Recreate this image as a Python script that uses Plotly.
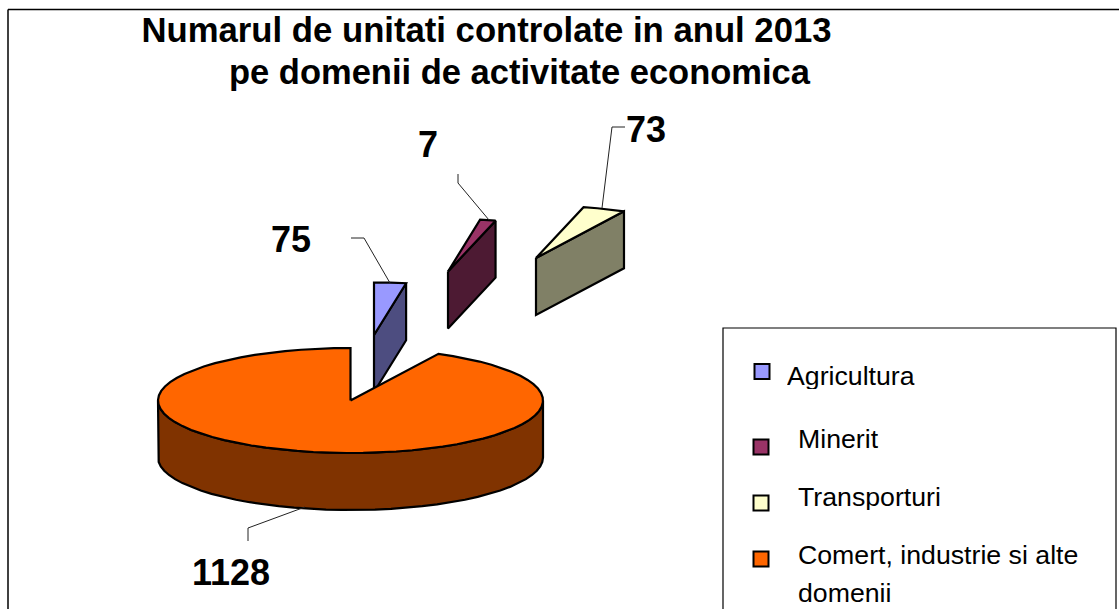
import numpy as np
import plotly.graph_objects as go

# Data
categories = ["Agricultura", "Minerit", "Transporturi", "Comert, industrie si alte domenii"]
legend_lines = ["Agricultura", "Minerit", "Transporturi", "Comert, industrie si alte", "domenii"]
values = [75, 7, 73, 1128]
# sweep of each slice as it is drawn in the picture (degrees, clockwise from 12 o'clock)
drawn_sweep_deg = [9.6, 4.7, 12.9, 332.8]
top_colors = ["#9999FF", "#993366", "#FFFFCC", "#FF6600"]
side_colors = ["#4D4D80", "#4D1A33", "#808066", "#803300"]
title_lines = ["Numarul de unitati controlate in anul 2013", "pe domenii de activitate economica"]

# Layout constants (canvas is laid out in pixels)
W, H = 1119, 609
RX, RY, DEPTH = 192.5, 52.5, 57
vertices = [(374, 335), (448, 271.5), (536, 258), (350.5, 400.5)]
label_pos = [(291, 239), (428, 144), (646, 129), (231, 572)]
leaders = [
    ([351, 364, 390], [238, 238, 283]),
    ([458, 458, 489], [174, 183, 220]),
    ([625, 612, 602], [127, 127, 208]),
    ([248, 248, 305], [541, 528, 507]),
]
legend_marker_xy = [(762, 371.5), (761, 447), (761, 503), (761, 559)]
legend_text_xy = [(786, 376), (796.5, 439), (796.5, 497), (796.5, 555), (796.5, 593)]
LINE = dict(color="black", width=2.2)
FONT = "Liberation Sans, Arial, sans-serif"


def arc(cx, cy, a0, a1, n=None):
    n = n or max(2, int(abs(a1 - a0) / 5) + 2)
    t = np.radians(np.linspace(a0, a1, n))
    return cx + RX * np.sin(t), cy - RY * np.cos(t)


fig = go.Figure()


def poly(x, y, color, name):
    fig.add_trace(go.Scatter(x=list(x), y=list(y), mode="lines", fill="toself",
                             fillcolor=color, line=LINE, hoverinfo="name", name=name,
                             showlegend=False))


starts = np.concatenate([[0], np.cumsum(drawn_sweep_deg)[:-1]])
for i in range(4):
    a0, a1 = starts[i], starts[i] + drawn_sweep_deg[i]
    cx, cy = vertices[i]
    name = categories[i]
    if i < 3:
        # visible cut face: vertex -> end of the arc, extruded downward
        ex, ey = arc(cx, cy, a1, a1, 2)
        poly([cx, ex[0], ex[0], cx, cx], [cy, ey[0], ey[0] + DEPTH, cy + DEPTH, cy],
             side_colors[i], name)
    else:
        # outer wall of the large slice
        ux, uy = arc(cx, cy, 90, 270)
        poly(np.r_[ux, ux[::-1], ux[0]], np.r_[uy, uy[::-1] + DEPTH, uy[0]],
             side_colors[i], name)
    ax, ay = arc(cx, cy, a0, a1)
    poly(np.r_[cx, ax, cx], np.r_[cy, ay, cy], top_colors[i], name)

# leader lines
for lx, ly in leaders:
    fig.add_trace(go.Scatter(x=lx, y=ly, mode="lines", line=dict(color="#222222", width=1),
                             hoverinfo="skip", showlegend=False))

# legend swatches
for (mx, my), c, name in zip(legend_marker_xy, top_colors, categories):
    fig.add_trace(go.Scatter(x=[mx], y=[my], mode="markers", cliponaxis=False,
                             marker=dict(symbol="square", size=15, color=c,
                                         line=dict(color="black", width=2)),
                             hoverinfo="skip", showlegend=False))

annotations = [dict(x=519.5, y=72, text=f"<b>{title_lines[1]}</b>", showarrow=False,
                    xanchor="center", yanchor="middle",
                    font=dict(family=FONT, size=34.5, color="black"))]
for (x, y), v in zip(label_pos, values):
    annotations.append(dict(x=x, y=y, text=f"<b>{v}</b>", showarrow=False, xanchor="center",
                            yanchor="middle", font=dict(family=FONT, size=36, color="black")))
for (x, y), c in zip(legend_text_xy, legend_lines):
    annotations.append(dict(x=x, y=y, text=c, showarrow=False, xanchor="left", yanchor="middle",
                            align="left", height=26, valign="middle", borderpad=0,
                            font=dict(family=FONT, size=26.7, color="black")))

shapes = [
    dict(type="line", x0=8, x1=8, y0=9.5, y1=H, line=dict(color="black", width=1.5), layer="below"),
    dict(type="line", x0=8, x1=W, y0=9.5, y1=9.5, line=dict(color="black", width=1.5), layer="below"),
    dict(type="rect", x0=723, x1=1116, y0=328, y1=H + 5, line=dict(color="black", width=1.2),
         fillcolor="white", layer="below"),
]

fig.update_layout(
    width=W, height=H, margin=dict(l=0, r=0, t=0, b=0, autoexpand=False),
    paper_bgcolor="white", plot_bgcolor="white", showlegend=False,
    title=dict(text=f"<b>{title_lines[0]}</b>",
               x=486.5 / W, xanchor="center", xref="paper", y=1 - 30 / H, yanchor="middle",
               font=dict(family=FONT, size=34.7, color="black")),
    xaxis=dict(range=[0, W], visible=False, fixedrange=True),
    yaxis=dict(range=[H, 0], visible=False, fixedrange=True),
    annotations=annotations, shapes=shapes,
)
fig.write_html("out.html", config=dict(displayModeBar=False),
               post_script="document.body.style.margin='0';document.body.style.overflow='hidden';")
